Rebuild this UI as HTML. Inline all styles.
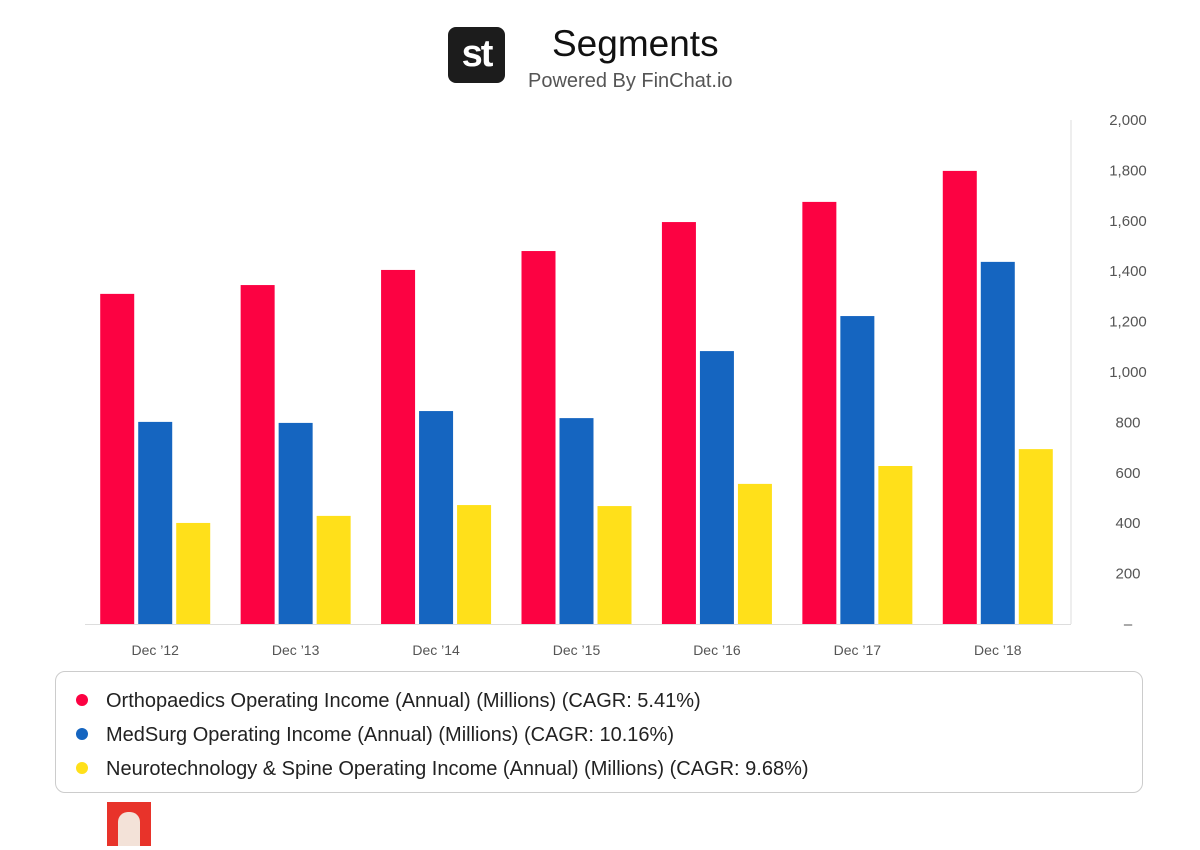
<!DOCTYPE html>
<html><head><meta charset="utf-8"><style>
body{margin:0;width:1200px;height:850px;background:#fff;font-family:"Liberation Sans",sans-serif;position:relative;overflow:hidden}
.abs{position:absolute}
</style></head><body>
<div class="abs" style="left:448px;top:27px;width:57px;height:56px;background:#1c1c1c;border-radius:8px;color:#fff;font-weight:bold;font-size:38px;line-height:54px;text-align:center;letter-spacing:-2px">st</div>
<div class="abs" style="left:552px;top:23px;font-size:37px;color:#111">Segments</div>
<div class="abs" style="left:528px;top:70px;font-size:20px;color:#555">Powered By FinChat.io</div>
<svg class="abs" style="left:0;top:0" width="1200" height="850">
<g id="g"></g>
</svg>
<div class="abs" style="left:55px;top:671px;width:1088px;height:122px;border:1px solid #ccc;border-radius:10px;box-sizing:border-box"></div>
<div class="abs" style="left:107px;top:802px;width:44px;height:44px;background:#e8332a"><div style="margin:10px auto 0;width:22px;height:34px;background:#f3e2d8;border-radius:10px 10px 0 0"></div></div>
<script>
const categories=["Dec '12","Dec '13","Dec '14","Dec '15","Dec '16","Dec '17","Dec '18"];
const ortho=[1310,1345,1405,1480,1595,1675,1798];
const medsurg=[802,798,845,817,1083,1222,1437];
const neuro=[401,429,472,468,556,627,694];
const yTicks=[0,200,400,600,800,1000,1200,1400,1600,1800,2000];
const seriesNames=["Orthopaedics Operating Income (Annual) (Millions) (CAGR: 5.41%)","MedSurg Operating Income (Annual) (Millions) (CAGR: 10.16%)","Neurotechnology & Spine Operating Income (Annual) (Millions) (CAGR: 9.68%)"];
const colors=["#fc0242","#1565c0","#ffe01a"];
const series=[ortho,medsurg,neuro];
const NS="http://www.w3.org/2000/svg",g=document.getElementById('g');
const x0=85,x1=1068,y0=624,yTop=120;
const y=v=>y0-(v/2000)*(y0-yTop);
const band=(x1-x0)/categories.length;
function mk(t,a){const e=document.createElementNS(NS,t);for(const k in a)e.setAttribute(k,a[k]);g.appendChild(e);return e;}
let l=mk('line',{x1:x0,x2:x1+3,y1:y0+0.5,y2:y0+0.5,stroke:'#ddd'});


l=mk('line',{x1:x1+3,x2:x1+3,y1:yTop,y2:y0,stroke:'#ddd'});


yTicks.forEach(v=>{const t=mk('text',{x:1128,y:y(v)+5,'text-anchor':'middle','font-size':15,fill:'#555'});t.textContent=v===0?'–':v.toLocaleString('en-US');

});
categories.forEach((c,i)=>{const cx=x0+band*(i+0.5);
series.forEach((s,j)=>{const r=mk('rect',{x:cx-55+j*38,y:y(s[i]),width:34,height:y0-y(s[i]),fill:colors[j]});

});
const t=mk('text',{x:cx,y:655,'text-anchor':'middle','font-size':14,fill:'#555'});t.textContent=c.replace("'","’");

});
seriesNames.forEach((n,j)=>{const yy=700+j*34;
const c=mk('circle',{cx:82,cy:yy,r:6,fill:colors[j]});


const t=mk('text',{x:106,y:yy+7,'font-size':20,fill:'#222'});t.textContent=n;

});
</script>
</body></html>
